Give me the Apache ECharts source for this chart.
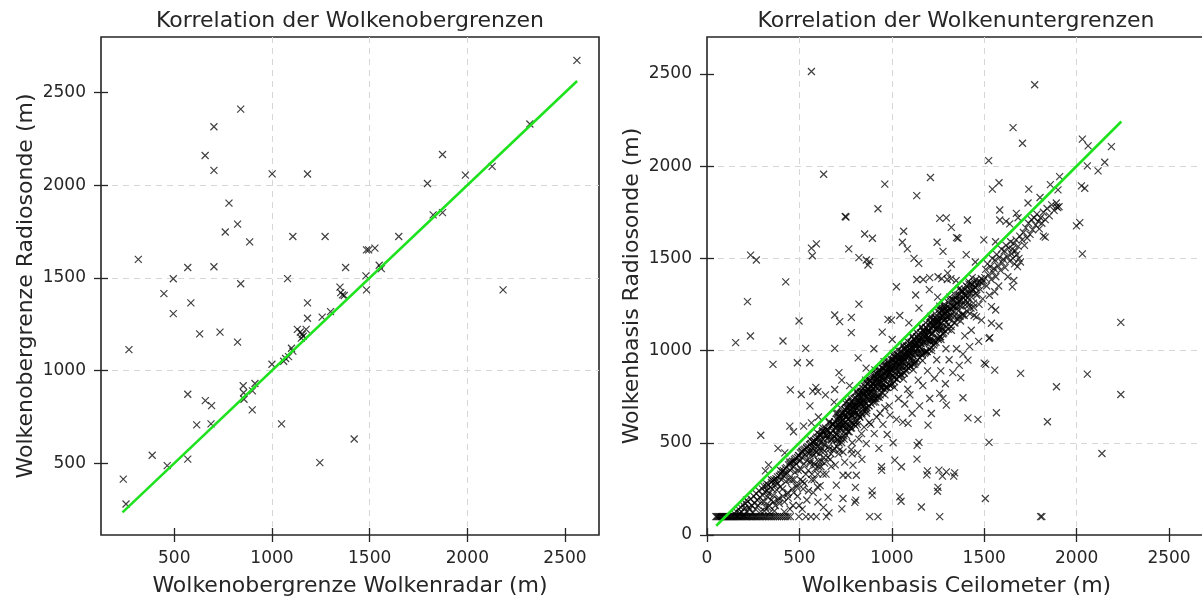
<!DOCTYPE html>
<html><head><meta charset="utf-8">
<script src="https://cdn.jsdelivr.net/npm/echarts@6/dist/echarts.min.js"></script>
<style>html,body{margin:0;padding:0;background:#fff}#c{width:1202px;height:596px}</style>
</head><body><div id="c"></div>
<script>
// ---------- data ----------
const titles = ['Korrelation der Wolkenobergrenzen', 'Korrelation der Wolkenuntergrenzen'];
const leftTicks = [500, 1000, 1500, 2000, 2500];
const rightTicks = [0, 500, 1000, 1500, 2000, 2500];

// Left panel: cloud tops (Wolkenradar x, Radiosonde y)
const obergrenzePoints = [
[840,2410],[703,2315],[658,2160],[703,2080],[1001,2061],[1182,2060],[780,1903],[824,1790],[761,1747],[886,1694],
[1107,1723],[1272,1723],[316,1600],[569,1556],[703,1560],[495,1495],[1080,1496],[840,1468],[447,1415],[585,1365],
[495,1307],[1182,1365],[1348,1450],[1361,1408],[1352,1420],[1370,1405],[1182,1282],[1257,1288],[1300,1318],[1130,1222],
[1145,1208],[1155,1195],[1160,1185],[1175,1222],[1150,1175],[630,1198],[734,1207],[824,1153],[268,1113],[1100,1120],
[1107,1105],[1085,1075],[1070,1065],[1000,1034],[1060,1050],[853,918],[855,880],[857,845],[913,930],[900,890],
[899,788],[569,872],[659,838],[691,811],[615,707],[688,712],[1049,712],[387,543],[464,487],[569,522],
[1245,503],[239,414],[253,280],[1421,631],[2183,1435],[1484,1435],[2561,2673],[2320,2330],[1873,2165],[2127,2101],
[1990,2054],[1796,2009],[1825,1840],[1873,1852],[1649,1723],[1484,1651],[1495,1651],[1527,1660],[1377,1556],[1549,1568],
[1560,1550],[1481,1511]
];
const identityLeft = [235, 2562];

// Right panel: cloud bases (Ceilometer x, Radiosonde y)
const untergrenzeStrip = [
[48,100],[53,100],[58,100],[63,100],[68,100],[73,100],[78,100],[83,100],[88,100],[93,100],[98,100],[103,100],[108,100],
[113,100],[118,100],[123,100],[128,100],[133,100],[138,100],[144,100],[149,100],[155,100],[160,100],[166,100],[171,100],
[177,100],[183,100],[189,100],[195,100],[201,100],[207,100],[214,100],[220,100],[227,100],[233,100],[240,100],[247,100],
[254,100],[261,100],[268,100],[276,100],[283,100],[291,100],[299,100],[307,100],[315,100],[324,100],[333,100],[342,100],
[351,100],[361,100],[371,100],[381,100],[392,100],[403,100],[414,100],[426,100],[438,100],[451,100],[497,100],[535,100],[562,100]
];
const untergrenzeBand = [
[152,112],[158,128],[163,105],[170,140],[176,118],[183,150],[188,125],[195,162],[199,108],
[204,145],[209,170],[214,128],[220,182],[226,150],[231,138],[237,195],[242,160],[248,120],
[253,210],[257,172],[262,140],[266,225],[271,190],[276,160],[281,240],[286,205],[291,128],[296,180],[299,250],
[302,215],[306,265],[309,180],[313,235],[317,150],[321,280],[325,240],[328,205],[332,270],[336,225],[339,120],[343,260],[347,190],[349,285],
[352,250],[355,295],[359,215],[362,300],[366,270],[370,160],[373,305],[377,245],[381,315],[384,280],[388,200],[391,320],[395,260],[398,330],
[402,300],[405,345],[409,250],[412,350],[416,320],[419,180],[423,360],[427,290],[430,365],[434,335],[437,230],[441,380],[445,300],[448,385],[449,140],
[452,350],[455,395],[459,300],[462,400],[466,370],[469,230],[473,410],[476,340],[480,415],[483,385],[487,270],[490,420],[494,350],[497,430],[499,160],
[502,400],[505,445],[509,355],[512,450],[515,420],[518,290],[522,460],[525,385],[529,465],[532,435],[535,330],[539,475],[542,405],[546,480],[549,240],
[552,440],[555,490],[558,400],[562,495],[565,460],[568,330],[571,505],[575,430],[578,510],[581,480],[584,380],[588,520],[591,450],[594,530],[598,260],[599,330],
[602,480],[605,530],[608,440],[611,545],[614,500],[617,370],[620,545],[623,470],[626,565],[629,520],[632,420],[635,560],[638,490],[641,580],[644,330],[647,540],
[652,525],[655,570],[658,480],[661,610],[664,545],[667,410],[670,590],[673,515],[676,600],[679,565],[682,460],[685,600],[688,535],[691,615],[694,380],[697,580],[699,545],
[701,580],[703,625],[706,545],[708,660],[711,600],[713,500],[716,640],[718,575],[721,650],[723,615],[726,520],[728,655],[731,590],[733,665],[736,450],[738,630],[741,600],[743,560],[746,680],[748,610],
[751,640],[753,690],[756,600],[758,725],[761,660],[763,560],[766,705],[768,630],[771,705],[773,675],[776,580],[778,720],[781,650],[783,725],[786,500],[788,695],[791,665],[793,620],[796,740],[798,680],
[801,700],[803,745],[806,660],[808,780],[811,715],[813,600],[816,760],[818,690],[821,760],[823,730],[826,640],[828,775],[831,710],[833,780],[836,550],[838,750],[841,720],[843,680],[846,795],[848,735],[849,700],
[851,760],[853,805],[856,720],[858,840],[861,775],[863,660],[866,820],[868,750],[871,815],[873,790],[876,700],[878,835],[881,770],[883,835],[886,600],[888,810],[891,780],[893,740],[896,855],[898,795],[899,760],
[901,815],[903,860],[906,775],[908,895],[911,830],[913,720],[916,875],[918,805],[921,870],[923,845],[926,760],[928,890],[931,825],[933,880],[936,660],[938,865],[941,835],[943,795],[946,905],[948,850],
[951,860],[953,905],[956,820],[958,940],[961,875],[963,760],[966,920],[968,850],[971,915],[973,890],[976,800],[978,935],[981,870],[983,930],[986,700],[988,910],[991,880],[993,840],[996,950],[998,895],
[1001,905],[1003,950],[1006,865],[1008,985],[1011,920],[1013,800],[1016,965],[1018,895],[1021,960],[1023,935],[1026,845],[1028,980],[1031,915],[1033,975],[1036,740],[1038,955],[1041,925],[1043,885],[1046,995],[1048,940],
[1051,950],[1053,995],[1056,910],[1058,1030],[1061,965],[1063,845],[1066,1010],[1068,940],[1071,1005],[1073,980],[1076,890],[1078,1025],[1081,960],[1083,1020],[1086,790],[1088,1000],[1091,970],[1093,930],[1096,1040],[1098,985],
[1101,1000],[1104,1045],[1107,960],[1110,1080],[1113,1015],[1116,895],[1119,1060],[1122,990],[1125,1055],[1128,1030],[1131,940],[1134,1075],[1137,1010],[1140,1070],[1143,840],[1146,1050],[1149,1020],
[1151,1050],[1154,1095],[1157,1010],[1160,1130],[1163,1065],[1166,945],[1169,1110],[1172,1040],[1175,1105],[1178,1080],[1181,990],[1184,1125],[1187,1060],[1190,1120],[1193,890],[1196,1100],[1199,1070],
[1201,1100],[1204,1150],[1207,1060],[1210,1185],[1213,1120],[1216,1000],[1219,1165],[1222,1095],[1225,1165],[1228,1135],[1231,1040],[1234,1180],[1237,1115],[1240,1175],[1243,950],[1246,1155],[1249,1125],
[1251,1155],[1254,1205],[1257,1115],[1260,1240],[1263,1175],[1266,1060],[1269,1220],[1272,1150],[1275,1220],[1278,1190],[1281,1095],[1284,1240],[1287,1170],[1290,1230],[1293,1010],[1296,1210],[1299,1180],
[1302,1210],[1306,1260],[1310,1170],[1314,1290],[1318,1225],[1322,1110],[1326,1275],[1330,1200],[1334,1275],[1338,1240],[1342,1150],[1346,1285],[1349,1230],
[1352,1255],[1356,1300],[1360,1215],[1364,1335],[1368,1270],[1372,1160],[1376,1320],[1380,1245],[1384,1320],[1388,1285],[1392,1190],[1396,1330],[1399,1275],
[1403,1300],[1407,1345],[1411,1260],[1415,1375],[1419,1315],[1423,1200],[1427,1360],[1431,1290],[1435,1395],[1439,1330],[1443,1235],[1447,1370],
[1452,1345],[1456,1385],[1460,1300],[1464,1370],[1468,1355],[1472,1250],[1476,1375],[1480,1330],[1484,1390],[1488,1365],[1492,1280],[1496,1380],
[1503,1395],[1508,1440],[1513,1350],[1518,1470],[1523,1410],[1528,1300],[1533,1455],[1538,1385],[1543,1500],[1548,1425],
[1553,1445],[1558,1490],[1563,1400],[1568,1520],[1573,1460],[1578,1350],[1583,1505],[1588,1435],[1593,1550],[1598,1475],
[1603,1495],[1608,1540],[1613,1450],[1618,1570],[1623,1510],[1628,1400],[1633,1555],[1638,1485],[1643,1590],[1648,1525],
[1652,1550],[1656,1500],[1660,1580],[1664,1470],[1668,1540],[1672,1600],[1676,1520],[1680,1455],[1684,1565],[1688,1500],[1692,1620],[1696,1480],
[1705,1600],[1712,1640],[1718,1570],[1725,1665],[1732,1610],[1740,1690],[1748,1630],[1755,1710],[1762,1655],[1770,1720],[1778,1680],[1785,1740],[1792,1700],[1798,1660],
[1805,1720],[1812,1690],[1820,1750],[1830,1710],[1840,1770],[1852,1730],[1865,1790],[1878,1760],[1890,1800],[1898,1775]
];
const untergrenzeCore = [
[552,444],[558,390],[565,475],[571,443],[578,390],[584,507],[591,448],[597,482],[604,401],[610,516],
[617,456],[623,559],[630,493],[636,455],[643,538],[649,521],[656,566],[662,465],[669,551],[675,520],
[682,604],[688,514],[695,555],[701,594],[708,517],[714,625],[721,574],[727,598],[734,622],[740,538],
[747,655],[753,577],[760,643],[766,689],[773,615],[779,649],[786,606],[792,696],[799,655],[805,689],
[812,706],[818,654],[825,741],[831,710],[838,660],[844,777],[851,719],[857,753],[864,674],[870,791],
[877,733],[883,838],[890,774],[896,738],[903,822],[909,805],[916,850],[922,749],[929,835],[935,804],
[942,888],[948,798],[955,839],[961,878],[968,799],[974,907],[981,854],[987,876],[994,900],[1000,814],
[1007,929],[1013,851],[1020,915],[1026,959],[1033,885],[1039,917],[1046,872],[1052,962],[1059,920],[1065,953],
[1072,969],[1078,915],[1085,1001],[1091,969],[1098,917],[1104,1033],[1111,974],[1117,1007],[1124,926],[1130,1042],
[1137,983],[1143,1086],[1150,1021],[1156,984],[1163,1067],[1169,1051],[1176,1097],[1182,996],[1189,1083],[1195,1052],
[1202,1137],[1208,1049],[1215,1091],[1221,1131],[1228,1054],[1234,1162],[1241,1111],[1247,1135],[1254,1159],[1260,1075],
[1267,1192],[1273,1114],[1280,1180],[1286,1226],[1293,1152],[1299,1186],[1306,1142],[1312,1232],[1319,1190],[1325,1223],
[1332,1239],[1338,1185],[1345,1271],[1351,1239],[1358,1186],[1364,1302],[1371,1242],[1377,1274],[1384,1193],[1390,1308],
[1397,1248],[1403,1351],[1410,1285],[1416,1247],[1423,1330],[1429,1313],[1436,1358],[1442,1257],[1449,1343],[1455,1311],
[704,517],[711,601],[717,586],[724,632],[730,532],[737,620],[743,589],[750,675],[756,587],[763,628],
[769,669],[776,592],[782,700],[789,649],[795,673],[802,697],[808,614],[815,731],[821,654],[828,721],
[834,767],[841,694],[847,728],[854,686],[860,777],[867,736],[873,771],[880,788],[886,735],[893,823],
[899,792],[906,739],[912,855],[919,795],[925,827],[932,746],[938,861],[945,802],[951,904],[958,838],
[964,801],[971,883],[977,866],[984,912],[990,810],[997,896],[1003,865],[1010,949],[1016,859],[1023,900],
[1029,939],[1036,860],[1042,968],[1049,915],[1055,938],[1062,962],[1068,877],[1075,993],[1081,915],[1088,980],
[1094,1025],[1101,951],[1107,984],[1114,940],[1120,1030],[1127,988],[1133,1021],[1140,1037],[1146,983],[1153,1069],
[1159,1037],[1166,985],[1172,1101],[1179,1042],[1185,1075],[1192,994],[1198,1110],[1205,1051],[1211,1155],[1218,1091],
[1224,1054],[1231,1138],[1237,1122],[1244,1169],[1250,1069],[1257,1157],[1263,1126],[1270,1212],[1276,1123],[1283,1165],
[1289,1206],[1296,1128],[1302,1236],[1309,1185]
];
const untergrenzeBandEdge = [
[310,130],[335,160],[360,180],[385,190],[410,210],[435,220],[460,250],[485,260],
[505,300],[527,280],[548,350],[566,300],[586,360],[604,370],[619,400],[636,390],[654,420],[671,440],[689,470],
[704,480],[717,460],[729,500],[742,520],[755,540],[769,560],[782,580],[797,600],
[804,590],[815,620],[827,640],[840,650],[852,670],[865,690],[877,700],[890,710],
[902,720],[914,740],[925,750],[937,760],[949,770],[960,790],[974,800],[987,815],
[1004,820],[1015,830],[1027,845],[1040,860],[1052,870],[1065,880],[1079,895],[1092,905],
[1103,915],[1115,925],[1127,935],[1139,950],[1152,960],[1164,975],[1177,985],[1189,995],
[1203,1005],[1215,1015],[1227,1030],[1239,1045],[1252,1060],[1264,1075],[1276,1090],[1289,1105],
[1305,1115],[1321,1130],[1337,1150],[1353,1170],[1369,1185],[1385,1200],[1405,1215],[1429,1230],
[320,265],[348,300],[372,290],[397,350],[422,335],[447,395],[472,400],[495,430],[515,455],[538,470],
[557,520],[577,500],[596,555],[610,540],[627,580],[645,570],[662,615],[680,600],[698,660],[709,640],
[722,690],[735,655],[749,715],[762,690],[775,745],[790,720],[809,775],[820,745],[834,800],[845,770],
[859,830],[870,790],[884,855],[897,820],[907,870],[919,845],[930,895],[942,860],[955,920],[967,885],
[980,945],[994,905],[1009,970],[1020,930],[1034,1000],[1045,960],[1059,1025],[1072,985],[1085,1050],[1097,1010],
[1108,1075],[1121,1040],[1133,1100],[1145,1060],[1158,1125],[1171,1085],[1183,1150],[1195,1110],[1209,1175],[1221,1140],
[1233,1200],[1245,1165],[1258,1225],[1270,1190],[1283,1250],[1297,1215],[1313,1275],[1329,1240],[1345,1300],[1361,1270],
[1377,1330],[1393,1300],[1417,1360],[1441,1330]
];
const untergrenzeLow = [
[330,150],[365,130],[392,170],[418,125],[440,200],[465,160],[490,210],[515,140],[540,190],[575,230],
[600,180],[630,150],[660,120],[520,250],[470,300],[580,300]
];
const untergrenzeBelow = [
[612,268],[628,330],[655,205],[672,372],[700,270],[712,440],[730,142],[736,324],[736,198],[745,395],[763,324],[780,462],
[785,440],[790,379],[800,177],[803,258],[805,189],[808,324],[816,445],[822,520],[838,410],[850,585],[862,495],[878,610],
[894,216],[893,239],[905,550],[918,640],[930,470],[944,370],[945,350],[952,600],[962,690],[975,545],[990,650],[1007,500],
[1016,406],[1025,627],[1043,207],[1050,183],[1052,370],[1060,612],[1070,710],[1088,605],[1098,760],[1110,660],[1136,411],
[1137,486],[1147,502],[1150,700],[1160,152],[1168,810],[1189,326],[1193,348],[1196,596],[1205,740],[1214,659],[1230,850],
[1247,237],[1250,258],[1255,352],[1259,768],[1265,890],[1274,319],[1277,741],[1290,820],[1295,704],[1295,342],[1335,319],
[1340,337],[1310,950],[1330,880],[1350,1010],[1365,920],[1395,1080],[1430,1110],[1445,1190],[1470,1050]
];
const untergrenzeAbove = [
[333,380],[384,470],[421,445],[468,560],[523,590],[557,700],[603,640],[641,760],[688,720],[729,840],[772,810],[818,960],
[861,905],[903,1010],[948,1100],[1002,1060],[1043,1190],[1092,1150],[1147,1230],[1203,1330],[1248,1290],[1302,1420],
[1348,1380],[1403,1520],[1452,1480],[1498,1600],[1561,1590],[1618,1700],[1683,1720],[1737,1800],[1802,1830],[1858,1900]
];
const untergrenzeOutliers = [
[565,2513],[631,1956],[962,1902],[1209,1938],[1135,1840],[925,1769],[748,1727],[752,1724],[1259,1717],[1295,1719],
[1322,1668],[853,1632],[895,1609],[1064,1647],[1057,1587],[1084,1551],[1245,1587],[1277,1538],[1350,1612],[236,1517],
[267,1491],[565,1555],[592,1578],[570,1514],[767,1551],[822,1504],[862,1491],[871,1464],[880,1482],[1120,1500],
[1146,1473],[1322,1468],[426,1372],[1135,1385],[1170,1385],[1205,1395],[1250,1400],[1270,1390],[1300,1385],[1320,1390],
[1773,2441],[1656,2209],[1707,2124],[2031,2146],[2062,2110],[2188,2106],[2152,2021],[2116,1974],[2058,2001],[1524,2030],
[1580,1910],[1544,1875],[1741,1875],[1908,1943],[1899,1871],[2026,1893],[2044,1880],[1891,1780],[1905,1780],[1999,1676],
[2017,1694],[2031,1524],[1409,1708],[1358,1609],[1584,1762],[1584,1708],[1638,1687],[1674,1744],[1820,1620],[1830,1615],
[2239,1153],[2239,762],[2058,872],[1891,804],[1842,614],[2137,442],[1805,100],[1812,100],[1697,876],[1566,663],
[1526,502],[1506,198],[1412,635],[1466,627],[1385,744],[1373,853],[1500,932],[1508,925],[1557,894],[1421,1021],
[1412,948],[1385,981],[1526,1066],[1530,1070],[1539,1148],[1580,1133],[1539,1238],[1562,1220],[1458,1183],[1485,1165],
[1652,1345],[1660,1380],[1557,1319],[219,1265],[235,1079],[155,1043],[411,1052],[498,1160],[534,1012],[691,1012],
[357,925],[489,934],[556,934],[451,787],[510,762],[572,780],[589,800],[600,777],[691,789],[714,880],
[691,1193],[718,1157],[781,1180],[781,1097],[822,1252],[448,590],[291,541],[316,348],[213,189],[565,608],
[592,100],[646,100],[880,100],[925,100],[1259,100],[998,1165],[979,1169],[1129,1301],[1025,1346]
];
const identityRight = [50, 2242];

// ---------- chart ----------
const FONT = 'DejaVu Sans';
const INK = '#262626';
const grids = [
  {left: 101, top: 37, width: 498, height: 498},
  {left: 707, top: 37, width: 499, height: 498}
];
const ranges = [
  {x: [125, 2674], y: [113, 2799], ticks: leftTicks,
   xName: 'Wolkenobergrenze Wolkenradar (m)', yName: 'Wolkenobergrenze Radiosonde (m)'},
  {x: [0, 2700], y: [0, 2700], ticks: rightTicks,
   xName: 'Wolkenbasis Ceilometer (m)', yName: 'Wolkenbasis Radiosonde (m)'}
];
function mainAxis(g, ext, ticks, name, isY) {
  return {
    type: 'value', gridIndex: g, min: ext[0], max: ext[1],
    minInterval: 500, maxInterval: 500,
    position: isY ? 'left' : 'bottom',
    axisLine: {show: false},
    axisTick: {show: true, length: 7, customValues: ticks, lineStyle: {color: INK, width: 1.3}},
    axisLabel: {customValues: ticks, margin: 15, fontSize: 17, color: INK, fontFamily: FONT,
                formatter: v => String(v)},
    splitLine: {show: true, showMinLine: false, showMaxLine: false,
                lineStyle: {color: '#d6d6d6', type: [6, 5], width: 1}},
    name: name, nameLocation: 'middle', nameGap: isY ? 64 : 40,
    nameTextStyle: {fontSize: 22, color: INK, fontFamily: FONT}
  };
}
function innerAxis(g, ext, ticks, isY) {
  return {
    type: 'value', gridIndex: g, min: ext[0], max: ext[1],
    minInterval: 500, maxInterval: 500,
    position: isY ? 'left' : 'bottom', offset: 0,
    axisLine: {show: false},
    axisTick: {show: true, inside: true, length: 7, customValues: ticks, lineStyle: {color: INK, width: 1.3}},
    axisLabel: {show: false},
    splitLine: {show: false}
  };
}
const xAxes = [], yAxes = [];
ranges.forEach((r, g) => {
  xAxes.push(mainAxis(g, r.x, r.ticks, r.xName, false));
  xAxes.push(innerAxis(g, r.x, r.ticks, false));
  yAxes.push(mainAxis(g, r.y, r.ticks, r.yName, true));
  yAxes.push(innerAxis(g, r.y, r.ticks, true));
});
const markerStyle = {color: 'rgba(0,0,0,0)', borderColor: '#000', borderWidth: 1.2, opacity: 0.75};
const X_SYMBOL = 'path://M0,0L10,10M10,0L0,10';
function scatter(axisIdx, data) {
  return {type: 'scatter', xAxisIndex: axisIdx, yAxisIndex: axisIdx, data: data,
    symbol: X_SYMBOL, symbolSize: 7, itemStyle: markerStyle, silent: true, z: 2, large: false};
}
function identity(axisIdx, ends) {
  return {type: 'line', xAxisIndex: axisIdx, yAxisIndex: axisIdx,
    data: [[ends[0], ends[0]], [ends[1], ends[1]]], showSymbol: false, symbol: 'none',
    lineStyle: {color: '#1fe21f', width: 2.6}, silent: true, z: 3};
}
const rightAll = untergrenzeStrip.concat(untergrenzeBand, untergrenzeCore, untergrenzeBandEdge,
  untergrenzeLow, untergrenzeBelow, untergrenzeAbove, untergrenzeOutliers);

const chart = echarts.init(document.getElementById('c'), null, {renderer: 'canvas'});
chart.setOption({
  animation: false,
  backgroundColor: '#fff',
  title: [
    {text: titles[0], left: 350, top: 10, textAlign: 'center', padding: 0,
     textStyle: {fontSize: 22, fontWeight: 'normal', color: INK, fontFamily: FONT}},
    {text: titles[1], left: 956, top: 10, textAlign: 'center', padding: 0,
     textStyle: {fontSize: 22, fontWeight: 'normal', color: INK, fontFamily: FONT}}
  ],
  grid: grids.map(g => Object.assign({show: true, borderColor: INK, borderWidth: 1.6,
    backgroundColor: 'transparent', containLabel: false, outerBoundsMode: 'none'}, g)),
  xAxis: xAxes,
  yAxis: yAxes,
  series: [
    scatter(0, obergrenzePoints),
    identity(0, identityLeft),
    scatter(2, rightAll),
    identity(2, identityRight)
  ]
});
</script></body></html>
